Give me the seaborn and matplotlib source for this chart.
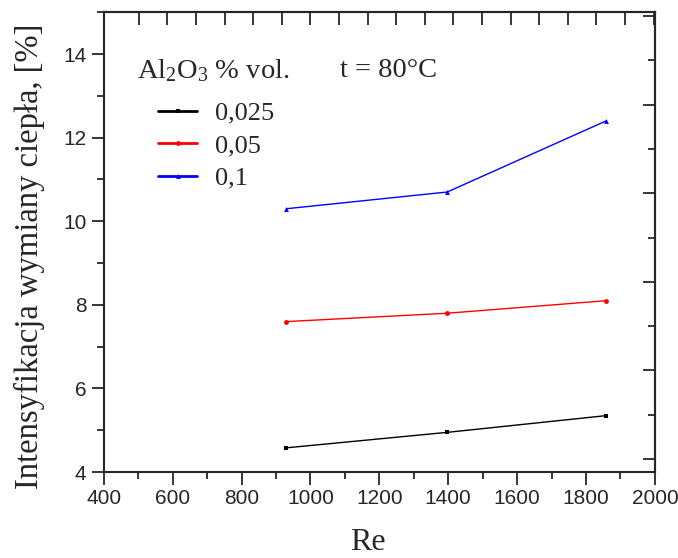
import numpy as np
import pandas as pd
import matplotlib
matplotlib.use("Agg")
import matplotlib.pyplot as plt
from matplotlib.ticker import MultipleLocator, FixedLocator, NullFormatter
import seaborn as sns

# dane
re_vals = [930, 1397, 1858]
conc_labels = ["0,025", "0,05", "0,1"]
int_0025 = [4.58, 4.95, 5.35]
int_005 = [7.60, 7.80, 8.10]
int_01 = [10.30, 10.70, 12.40]

df = pd.DataFrame({
    "Re": re_vals * 3,
    "val": int_0025 + int_005 + int_01,
    "conc": [c for c in conc_labels for _ in re_vals],
})

sns.set_style("ticks")
plt.rcParams['font.family'] = ['Liberation Serif', 'DejaVu Serif']
plt.rcParams['mathtext.fontset'] = 'custom'
plt.rcParams['mathtext.rm'] = 'Liberation Serif'
plt.rcParams['mathtext.it'] = 'Liberation Serif:italic'

fig = plt.figure(figsize=(6.78, 5.58), dpi=100)
ax = fig.add_axes([0.153, 0.154, 0.813, 0.824])

palette = {"0,025": "black", "0,05": "red", "0,1": "blue"}
markers = {"0,025": "s", "0,05": "o", "0,1": "^"}
sns.lineplot(data=df, x="Re", y="val", hue="conc", style="conc",
             palette=palette, markers=markers, dashes=False,
             markersize=3.5, markeredgewidth=0, linewidth=1.0, ax=ax)

ax.set_xlim(400, 2000)
ax.set_ylim(4, 15)
ax.xaxis.set_major_locator(MultipleLocator(200))
ax.xaxis.set_minor_locator(MultipleLocator(100))
ax.yaxis.set_major_locator(MultipleLocator(2))
ax.yaxis.set_minor_locator(MultipleLocator(1))
ax.tick_params(which='both', direction='out', width=1.3, top=False, right=False,
               labelsize=15, labelfontfamily='Liberation Sans')
ax.tick_params(which='major', length=9)
ax.tick_params(which='minor', length=5)
for s in ax.spines.values():
    s.set_visible(True)
    s.set_linewidth(1.5)

# os gorna i prawa (inne skale, tylko znaczniki)
top = ax.secondary_xaxis('top')
top.xaxis.set_major_locator(FixedLocator(np.arange(502, 2000, 83)))
top.xaxis.set_major_formatter(NullFormatter())
top.tick_params(direction='in', length=9, width=1.3)
top.spines['top'].set_linewidth(1.5)

right = ax.secondary_yaxis('right')
right.yaxis.set_major_locator(FixedLocator(np.arange(4.31, 15, 2.12)))
right.yaxis.set_minor_locator(FixedLocator(np.arange(5.37, 15, 2.12)))
right.yaxis.set_major_formatter(NullFormatter())
right.tick_params(which='major', direction='in', length=9, width=1.3)
right.tick_params(which='minor', direction='in', length=5, width=1.3)
right.spines['right'].set_linewidth(1.5)

ax.set_xlabel("Re", fontsize=23)
ax.xaxis.set_label_coords(0.48, -0.122, transform=ax.transAxes)
ax.set_ylabel("Intensyfikacja wymiany ciepła, [%]", fontsize=23.5)
ax.yaxis.set_label_coords(-0.107, 0.47, transform=ax.transAxes)

# tytul legendy
ax.text(0.060, 0.874, "Al$_2$O$_3$ % vol.", transform=ax.transAxes,
        fontsize=20.5, va='center', ha='left')
ax.text(0.428, 0.874, "t = 80°C", transform=ax.transAxes,
        fontsize=20.5, va='center', ha='left')

leg = ax.legend(loc='upper left', bbox_to_anchor=(0.098, 0.806), frameon=False,
                fontsize=19, handlelength=1.5, handletextpad=0.68,
                labelspacing=0.34, borderaxespad=0, borderpad=0)
for h in leg.legend_handles:
    h.set_linewidth(2.0)

fig.savefig("out.png", dpi=100)
